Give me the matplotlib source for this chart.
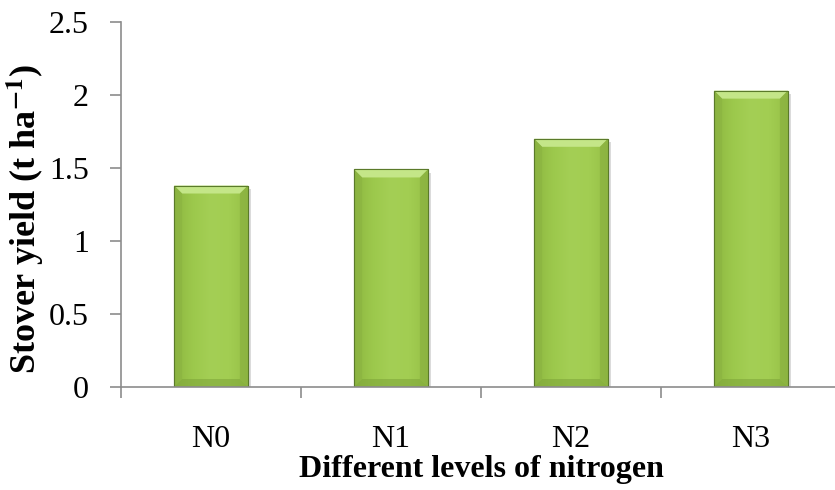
import numpy as np
import matplotlib.pyplot as plt
from matplotlib.patches import Polygon
from matplotlib.colors import LinearSegmentedColormap
import matplotlib.patheffects as pe

plt.rcParams['font.family'] = ['Liberation Serif', 'DejaVu Serif']
plt.rcParams['mathtext.fontset'] = 'stix'

# stover yield by nitrogen level
levels = ['N0', 'N1', 'N2', 'N3']
stover_yield = [1.38, 1.49, 1.70, 2.03]
y_ticks = [0, 0.5, 1, 1.5, 2, 2.5]
y_tick_labels = ['0', '0.5', '1', '1.5', '2', '2.5']

bar_width = 0.41
face = LinearSegmentedColormap.from_list(
    'bar_face', ['#8DB640', '#9CC84C', '#A4CF55', '#A2CD52', '#96C046'])

fig = plt.figure(figsize=(8.35, 4.9), dpi=100)
ax = fig.add_axes([121 / 835, 1 - 387 / 490, 720 / 835, 365 / 490])

x = np.arange(len(levels))
bars = ax.bar(x, stover_yield, width=bar_width, color='#9CC84C',
              edgecolor='#5A7A2A', linewidth=0.8, zorder=2)

ax.set_xlim(-0.5, 3.5)
ax.set_ylim(0, 2.5)

# per-pixel sizes in data units for the bevel
px_x = 4.0 / 720
px_y = 2.5 / 365
bx, by = 8 * px_x, 8 * px_y

grad = np.linspace(0, 1, 256).reshape(1, -1)
for b in bars:
    b.set_path_effects([pe.SimplePatchShadow(offset=(2.5, -2.5), shadow_rgbFace='#888888', alpha=0.3),
                        pe.Normal()])
    x0, w, h = b.get_x(), b.get_width(), b.get_height()
    x1 = x0 + w
    im = ax.imshow(grad, cmap=face, aspect='auto', extent=(x0, x1, 0, h), zorder=2.1)
    im.set_clip_path(b)
    # bevel faces: top light, sides a little darker, bottom dark
    top = Polygon([(x0, h), (x1, h), (x1 - bx, h - by), (x0 + bx, h - by)],
                  closed=True, facecolor='#C4E688', edgecolor='none', zorder=2.2)
    left = Polygon([(x0, h), (x0 + bx, h - by), (x0 + bx, by), (x0, 0)],
                   closed=True, facecolor='#8AB242', edgecolor='none', alpha=0.6, zorder=2.2)
    right = Polygon([(x1, h), (x1 - bx, h - by), (x1 - bx, by), (x1, 0)],
                    closed=True, facecolor='#86AC3E', edgecolor='none', alpha=0.6, zorder=2.2)
    bottom = Polygon([(x0, 0), (x1, 0), (x1 - bx, by), (x0 + bx, by)],
                     closed=True, facecolor='#7FA63A', edgecolor='none', alpha=0.6, zorder=2.2)
    for p in (top, left, right, bottom):
        ax.add_patch(p)
    ax.add_patch(Polygon([(x0, 0), (x0, h), (x1, h), (x1, 0)], closed=True,
                         facecolor='none', edgecolor='#5A7A2A', linewidth=0.8, zorder=2.3))

ax.set_xticks(np.arange(-0.5, 4.0, 1.0))
ax.set_xticklabels([])
ax.set_xticks(x, minor=True)
ax.set_xticklabels(levels, minor=True, fontsize=23)
ax.tick_params(axis='x', which='minor', length=0, pad=27)
ax.tick_params(axis='x', which='major', length=8, width=1.2, color='#8C8C8C', direction='out')

ax.set_yticks(y_ticks)
ax.set_yticklabels(y_tick_labels, fontsize=23)
ax.tick_params(axis='y', length=8, width=1.2, color='#8C8C8C', direction='out', pad=15)

for side in ('top', 'right'):
    ax.spines[side].set_visible(False)
for side in ('left', 'bottom'):
    ax.spines[side].set_color('#8C8C8C')
    ax.spines[side].set_linewidth(1.2)

ax.set_xlabel('Different levels of nitrogen', fontsize=23, fontweight='bold', labelpad=1)
ax.set_ylabel('Stover yield (t ha$^{\\mathbf{-1}}$)', fontsize=26, fontweight='bold')
ax.yaxis.set_label_coords(-0.104, 0.46)

fig.savefig('out.png', dpi=100)
